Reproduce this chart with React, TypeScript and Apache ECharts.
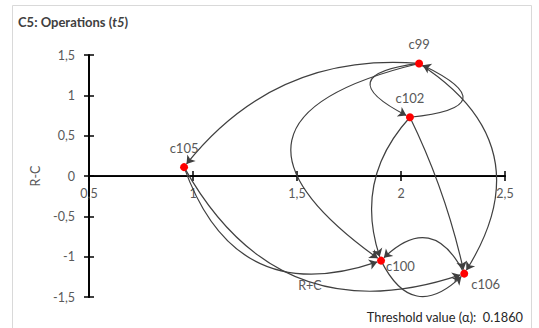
import React, { useEffect, useRef } from "react";
import * as echarts from "echarts";

// Nodes (criteria) with their prominence (R+C) and relation (R-C)
const nodeNames = ["c99", "c100", "c102", "c105", "c106"];
const rPlusC = [2.087, 1.904, 2.043, 0.957, 2.304];
const rMinusC = [1.395, -1.049, 0.728, 0.11, -1.21];

// Influence relations (source -> target)
const linkSources = ["c99", "c99", "c99", "c99", "c102", "c102", "c102", "c100", "c106", "c105", "c105"];
const linkTargets = ["c105", "c102", "c100", "c106", "c99", "c100", "c106", "c106", "c100", "c100", "c106"];

const xTicks = [0.5, 1, 1.5, 2, 2.5];
const yTicks = [-1.5, -1, -0.5, 0, 0.5, 1, 1.5];
const thresholdValue = "0.1860";

// curve bending of each relation (style)
const linkCurveness = [-0.27, -1.65, -1.1, 0.5, -1.8, -0.3, 0.06, -0.7, -0.7, -0.5, -0.42];

const FONT = "Lato, 'Open Sans', sans-serif";

export default function App() {
  const ref = useRef<HTMLDivElement>(null);
  useEffect(() => {
    if (!ref.current) return;
    const chart = echarts.init(ref.current, undefined, { renderer: "svg" });
    const fmt = (v: number) => String(v).replace(".", ",");
    const labelPos: Record<string, any> = {
      c99: { position: "top", offset: [0, -4] },
      c102: { position: "top", offset: [0, -4] },
      c105: { position: "top", offset: [0, -4] },
      c100: { position: "right", offset: [-4, 5] },
      c106: { position: "right", offset: [-2, 10] },
    };
    const gridLeft = 89;
    const gridRight = 34;
    const gridTop = 55;
    const gridBottom = 31;
    const gridWidth = 539 - gridLeft - gridRight;
    const gridHeight = 328 - gridTop - gridBottom;
    const yMin = yTicks[0];
    const yMax = yTicks[yTicks.length - 1];
    // distance from zero line to bottom / top of the grid
    const zeroFromBottom = (gridHeight * (0 - yMin)) / (yMax - yMin);
    const zeroFromTop = gridHeight - zeroFromBottom;
    const axisLineStyle = { color: "#000", width: 1.75 };
    const tickStyle = { color: "#000", width: 1.5 };
    chart.setOption({
      animation: false,
      backgroundColor: "#fff",
      textStyle: { fontFamily: FONT },
      title: {
        left: 13,
        top: 10,
        text: "{b|C5: Operations (}{i|t5}{b|)}",
        textStyle: {
          rich: {
            b: { fontFamily: FONT, fontWeight: "bold", fontSize: 13, color: "#404040" },
            i: { fontFamily: FONT, fontWeight: "bold", fontStyle: "italic", fontSize: 13, color: "#404040" },
          },
        },
      },
      grid: { left: gridLeft, right: gridRight, top: gridTop, bottom: gridBottom, containLabel: false },
      xAxis: [
        {
          type: "value",
          min: xTicks[0],
          max: xTicks[xTicks.length - 1],
          interval: 0.5,
          position: "bottom",
          offset: -zeroFromBottom,
          axisLine: { show: true, onZero: false, lineStyle: axisLineStyle },
          axisTick: { show: true, length: 5, lineStyle: tickStyle },
          axisLabel: { color: "#595959", fontSize: 12.5, fontFamily: FONT, margin: 11, formatter: fmt, showMinLabel: true, hideOverlap: false },
          splitLine: { show: false },
        },
        {
          type: "value",
          min: xTicks[0],
          max: xTicks[xTicks.length - 1],
          interval: 0.5,
          position: "top",
          offset: -zeroFromTop,
          axisLine: { show: true, onZero: false, lineStyle: axisLineStyle },
          axisTick: { show: true, length: 5, lineStyle: tickStyle },
          axisLabel: { show: false },
          splitLine: { show: false },
        },
      ],
      yAxis: [
        {
          type: "value",
          min: yMin,
          max: yMax,
          interval: 0.5,
          position: "left",
          name: "R-C",
          nameLocation: "middle",
          nameGap: 34,
          nameTextStyle: { color: "#595959", fontSize: 12.5, fontFamily: FONT },
          axisLine: { show: true, onZero: false, lineStyle: axisLineStyle },
          axisTick: { show: true, length: 5, lineStyle: tickStyle },
          axisLabel: { color: "#595959", fontSize: 12.5, fontFamily: FONT, margin: 14, formatter: fmt },
          splitLine: { show: false },
        },
        {
          type: "value",
          min: yMin,
          max: yMax,
          interval: 0.5,
          position: "right",
          offset: -gridWidth,
          axisLine: { show: true, onZero: false, lineStyle: axisLineStyle },
          axisTick: { show: true, length: 5, lineStyle: tickStyle },
          axisLabel: { show: false },
          splitLine: { show: false },
        },
      ],
      graphic: [
        {
          type: "rect",
          shape: { x: 12.5, y: 5.5, width: 519, height: 340 },
          style: { fill: "none", stroke: "#d9d9d9", lineWidth: 1 },
          silent: true,
        },
        {
          type: "text",
          x: 310,
          y: 285,
          style: { text: "R+C", fill: "#595959", font: `12.5px ${FONT}`, align: "center", verticalAlign: "middle" },
        },
        {
          type: "text",
          x: 523,
          y: 317,
          style: {
            text: `Threshold value (\u03b1):  ${thresholdValue}`,
            fill: "#262626",
            font: `12.8px ${FONT}`,
            align: "right",
            verticalAlign: "middle",
          },
        },
      ],
      series: [
        {
          type: "graph",
          coordinateSystem: "cartesian2d",
          xAxisIndex: 0,
          yAxisIndex: 0,
          symbol: "circle",
          symbolSize: 8,
          itemStyle: { color: "#ff0000" },
          edgeSymbol: ["none", "arrow"],
          edgeSymbolSize: [0, 8],
          label: { show: true, color: "#595959", fontSize: 13, fontFamily: FONT, formatter: "{b}" },
          data: nodeNames.map((n, i) => ({
            name: n,
            value: [rPlusC[i], rMinusC[i]],
            label: labelPos[n],
          })),
          links: linkSources.map((s, i) => ({
            source: s,
            target: linkTargets[i],
            lineStyle: { curveness: linkCurveness[i] },
          })),
          lineStyle: { color: "#404040", width: 1.2, opacity: 1 },
          z: 3,
        },
      ],
    });
    return () => chart.dispose();
  }, []);
  return (
    <div
      ref={ref}
      style={{ position: "absolute", left: 0, top: 0, width: 539, height: 328, background: "#fff" }}
    />
  );
}
